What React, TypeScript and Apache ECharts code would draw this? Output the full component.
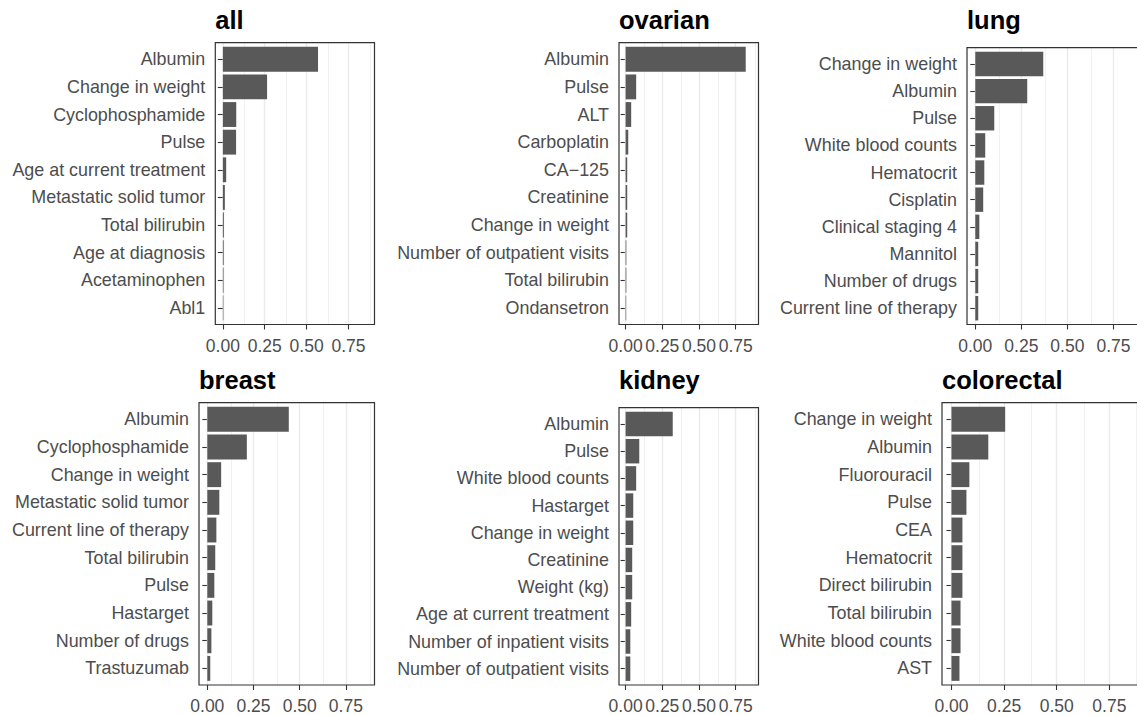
import React, { useEffect, useRef } from "react";
import * as echarts from "echarts";

// Feature importance per cancer type (top 10 features each)
const panelTitles = ["all", "ovarian", "lung", "breast", "kidney", "colorectal"];

const allFeatures = [
  "Albumin", "Change in weight", "Cyclophosphamide", "Pulse", "Age at current treatment",
  "Metastatic solid tumor", "Total bilirubin", "Age at diagnosis", "Acetaminophen", "Abl1",
];
const allValues = [0.568, 0.264, 0.08, 0.079, 0.02, 0.012, 0.006, 0.005, 0.004, 0.003];

const ovarianFeatures = [
  "Albumin", "Pulse", "ALT", "Carboplatin", "CA\u2212125", "Creatinine", "Change in weight",
  "Number of outpatient visits", "Total bilirubin", "Ondansetron",
];
const ovarianValues = [0.818, 0.072, 0.038, 0.018, 0.011, 0.011, 0.011, 0.005, 0.005, 0.004];

const lungFeatures = [
  "Change in weight", "Albumin", "Pulse", "White blood counts", "Hematocrit", "Cisplatin",
  "Clinical staging 4", "Mannitol", "Number of drugs", "Current line of therapy",
];
const lungValues = [0.369, 0.282, 0.103, 0.054, 0.049, 0.043, 0.022, 0.016, 0.016, 0.016];

const breastFeatures = [
  "Albumin", "Cyclophosphamide", "Change in weight", "Metastatic solid tumor",
  "Current line of therapy", "Total bilirubin", "Pulse", "Hastarget", "Number of drugs", "Trastuzumab",
];
const breastValues = [0.441, 0.214, 0.075, 0.065, 0.049, 0.043, 0.038, 0.027, 0.022, 0.016];

const kidneyFeatures = [
  "Albumin", "Pulse", "White blood counts", "Hastarget", "Change in weight", "Creatinine",
  "Weight (kg)", "Age at current treatment", "Number of inpatient visits", "Number of outpatient visits",
];
const kidneyValues = [0.321, 0.093, 0.072, 0.052, 0.052, 0.045, 0.045, 0.038, 0.032, 0.032];

const colorectalFeatures = [
  "Change in weight", "Albumin", "Fluorouracil", "Pulse", "CEA", "Hematocrit",
  "Direct bilirubin", "Total bilirubin", "White blood counts", "AST",
];
const colorectalValues = [0.255, 0.175, 0.085, 0.071, 0.052, 0.052, 0.052, 0.043, 0.043, 0.038];

const panelFeatures = [allFeatures, ovarianFeatures, lungFeatures, breastFeatures, kidneyFeatures, colorectalFeatures];
const panelValues = [allValues, ovarianValues, lungValues, breastValues, kidneyValues, colorectalValues];

// Shared x scale
const xMin = -0.045;
const xMax = 0.905;
const xMajorTicks = [0, 0.25, 0.5, 0.75];
const xMinorTicks = [0.125, 0.375, 0.625, 0.875];

// Panel frames in pixels (left, right, top, bottom) and title position per row
const frames = [
  { left: 215.3, right: 374.5, top: 42.7, bottom: 324.5, titleTop: 7.3 },
  { left: 619, right: 758.5, top: 42.7, bottom: 324.5, titleTop: 7.3 },
  { left: 967, right: 1142, top: 47.7, bottom: 324.5, titleTop: 7.3 },
  { left: 199, right: 374.5, top: 402.7, bottom: 685, titleTop: 367.3 },
  { left: 619, right: 758.5, top: 407.7, bottom: 685, titleTop: 367.3 },
  { left: 942, right: 1142, top: 402.7, bottom: 685, titleTop: 367.3 },
];

const FONT = "'Liberation Sans', Arial, Helvetica, sans-serif";
const TEXT_COLOR = "#4D4D4D";
const DARK = "#333333";
const GRID_COLOR = "#EBEBEB";
const BAR_COLOR = "#595959";

function buildOption() {
  const grid: any[] = [];
  const xAxis: any[] = [];
  const yAxis: any[] = [];
  const series: any[] = [];
  const title: any[] = [];

  panelTitles.forEach((name, i) => {
    const f = frames[i];
    const w = f.right - f.left;
    const h = f.bottom - f.top;
    // discrete axis padding of 0.6 step at each end instead of 0.5
    const inset = h / 102;
    const fi = 2 * i;
    const di = 2 * i + 1;

    grid.push({
      left: f.left, top: f.top, width: w, height: h,
      show: true, borderColor: DARK, borderWidth: 1.2, backgroundColor: "transparent",
      z: 5, containLabel: false, outerBoundsMode: "none",
    });
    grid.push({
      left: f.left, top: f.top + inset, width: w, height: h - 2 * inset,
      show: false, containLabel: false, outerBoundsMode: "none",
    });

    xAxis.push({
      gridIndex: fi, type: "value", min: xMin, max: xMax,
      axisLine: { show: false },
      splitLine: { show: false },
      axisTick: {
        show: true, customValues: xMajorTicks, length: 5,
        lineStyle: { color: DARK, width: 1.1 },
      },
      axisLabel: {
        customValues: xMajorTicks,
        formatter: (v: number) => v.toFixed(2),
        margin: 12, fontSize: 17.5, color: TEXT_COLOR, fontFamily: FONT,
      },
    });
    yAxis.push({ gridIndex: fi, type: "value", min: 0, max: 1, show: false });

    xAxis.push({ gridIndex: di, type: "value", min: xMin, max: xMax, show: false });
    yAxis.push({
      gridIndex: di, type: "category", data: panelFeatures[i], inverse: true,
      axisLine: { show: false },
      splitLine: { show: false },
      axisTick: {
        show: true, alignWithLabel: true, length: 5,
        lineStyle: { color: DARK, width: 1.1 },
      },
      axisLabel: {
        interval: 0, margin: 10, fontSize: 17.9, color: TEXT_COLOR, fontFamily: FONT,
      },
    });

    // vertical panel grid lines, kept beneath the bars
    series.push({
      type: "scatter", xAxisIndex: fi, yAxisIndex: fi, data: [], silent: true, z: 1,
      markLine: {
        z: 1, silent: true, symbol: ["none", "none"], label: { show: false }, animation: false,
        emphasis: { disabled: true },
        data: [
          ...xMajorTicks.map((v) => ({ xAxis: v, lineStyle: { color: GRID_COLOR, width: 1.4, type: "solid" } })),
          ...xMinorTicks.map((v) => ({ xAxis: v, lineStyle: { color: GRID_COLOR, width: 0.7, type: "solid" } })),
        ],
      },
    });

    series.push({
      type: "bar", xAxisIndex: di, yAxisIndex: di, data: panelValues[i],
      barCategoryGap: "10%", itemStyle: { color: BAR_COLOR }, z: 3, silent: true,
    });

    title.push({
      text: name, left: f.left, top: f.titleTop, padding: 0,
      textStyle: { fontSize: 25.5, fontWeight: "bold", color: "#000000", fontFamily: FONT },
    });
  });

  return { animation: false, backgroundColor: "#ffffff", title, grid, xAxis, yAxis, series };
}

export default function App() {
  const ref = useRef<HTMLDivElement>(null);

  useEffect(() => {
    if (!ref.current) return;
    const chart = echarts.init(ref.current, undefined, { renderer: "svg" });
    chart.setOption(buildOption() as any);
    return () => chart.dispose();
  }, []);

  return (
    <div
      ref={ref}
      style={{ position: "fixed", left: 0, top: 0, width: 1137, height: 715, background: "#ffffff" }}
    />
  );
}
